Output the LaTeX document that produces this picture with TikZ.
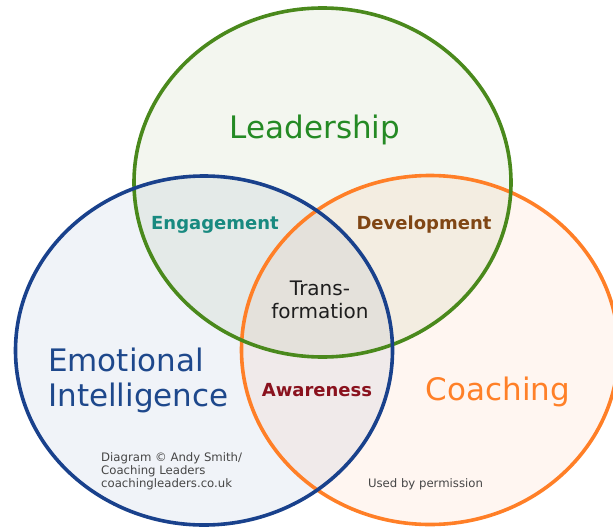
\documentclass[tikz,border=0pt]{standalone}
\usepackage{fontspec}
\setmainfont{DejaVu Sans}
\definecolor{leadline}{RGB}{74,137,28}
\definecolor{eiline}{RGB}{25,65,140}
\definecolor{coachline}{RGB}{255,127,39}
\definecolor{leadfill}{RGB}{243,246,239}
\definecolor{eifill}{RGB}{240,243,248}
\definecolor{coachfill}{RGB}{255,246,241}
\definecolor{leadtext}{RGB}{36,138,36}
\definecolor{eitext}{RGB}{30,72,140}
\definecolor{coachtext}{RGB}{255,128,40}
\definecolor{engtext}{RGB}{24,138,128}
\definecolor{devtext}{RGB}{128,70,20}
\definecolor{awtext}{RGB}{138,18,30}
\definecolor{transtext}{RGB}{30,30,30}
\definecolor{credit}{RGB}{70,70,70}
\begin{document}
\begin{tikzpicture}[x=1pt,y=-1pt, line join=round, line cap=round,
	ring/.style={line width=3.6pt},
	big/.style={font=\fontsize{31}{35}\selectfont},
	mid/.style={font=\bfseries\fontsize{18}{21}\selectfont},
	small/.style={font=\fontsize{11.7}{13}\selectfont, text=credit}]
	\def\rx{188.5} \def\ry{174.5} % radii
	\useasboundingbox (0,0) rectangle (613,527);
	\clip (0,0) rectangle (613,527);
	\coordinate (L) at (322.5,182.5);
	\coordinate (E) at (204,350.5);
	\coordinate (C) at (430,350);
	% fills
	\begin{scope}[blend mode=multiply]
	\fill[leadfill] (L) ellipse [x radius=\rx, y radius=\ry];
	\fill[eifill] (E) ellipse [x radius=\rx, y radius=\ry];
	\fill[coachfill] (C) ellipse [x radius=\rx, y radius=\ry];
	\end{scope}
	% rings
	\draw[ring,coachline] (C) ellipse [x radius=\rx, y radius=\ry];
	\draw[ring,leadline] (L) ellipse [x radius=\rx, y radius=\ry];
	\draw[ring,eiline] (E) ellipse [x radius=\rx, y radius=\ry];
	% labels
	\node[big,text=leadtext,anchor=base] (lead) at (315,138) {Leadership};
	\node[big,text=eitext,anchor=west,align=left,inner sep=0pt] (ei) at (48,380) {Emotional\\Intelligence};
	\node[big,text=coachtext,anchor=base] (coach) at (498,400) {Coaching};
	\node[mid,text=engtext,anchor=base] (eng) at (215,229) {Engagement};
	\node[mid,text=devtext,anchor=base] (dev) at (424,229) {Development};
	\node[mid,text=awtext,anchor=base] (aw) at (317,396.5) {Awareness};
	\node[font=\fontsize{20}{23}\selectfont,text=transtext,align=center,inner sep=0pt] (trans) at (320,299.5) {Trans-\\formation};
	\node[small,align=left,anchor=west,inner sep=0pt] (copy) at (101,470.8) {Diagram © Andy Smith/\\Coaching Leaders\\coachingleaders.co.uk};
	\node[small,anchor=base] (perm) at (425.5,487) {Used by permission};
\end{tikzpicture}
\end{document}
